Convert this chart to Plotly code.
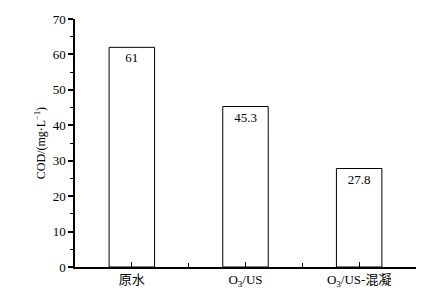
import plotly.graph_objects as go

categories = ["原水", "O<sub>3</sub>/US", "O<sub>3</sub>/US-混凝"]
cod_values = [62, 45.3, 27.8]
bar_labels = ["61", "45.3", "27.8"]
y_ticks = [0, 10, 20, 30, 40, 50, 60, 70]

font_family = "Liberation Serif, Times New Roman, Noto Sans CJK SC, serif"

fig = go.Figure()
fig.add_trace(go.Bar(
    x=list(range(len(categories))),
    y=cod_values,
    width=0.4,
    marker=dict(color="white", line=dict(color="black", width=1)),
    text=bar_labels,
    textposition="inside",
    insidetextanchor="end",
    textangle=0,
    textfont=dict(family=font_family, size=13, color="black"),
    cliponaxis=False,
))

fig.update_layout(
    width=431, height=301,
    margin=dict(l=75, r=15, t=15, b=34),
    paper_bgcolor="white", plot_bgcolor="white",
    showlegend=False,
    font=dict(family=font_family, size=13, color="black"),
    xaxis=dict(
        range=[-0.5, 2.5],
        tickmode="array", tickvals=list(range(len(categories))), ticktext=categories,
        ticks="inside", ticklen=5, tickwidth=1, tickcolor="black",
        showline=True, linecolor="black", linewidth=1.5,
        showgrid=False, zeroline=False,
        tickfont=dict(family=font_family, size=13, color="black"),
        minor=dict(tickmode="array", tickvals=[0.5, 1.5, 2.5], ticks="inside",
                   ticklen=4, tickwidth=1, tickcolor="black", showgrid=False),
    ),
    yaxis=dict(
        range=[0, 70],
        tickmode="array", tickvals=y_ticks,
        ticks="outside", ticklen=5, tickwidth=1.5, tickcolor="black",
        showline=True, linecolor="black", linewidth=1.5,
        showgrid=False, zeroline=False,
        tickfont=dict(family=font_family, size=13, color="black"),
        title=dict(text="COD/(mg·L<sup>−1</sup>)", font=dict(family=font_family, size=12, color="black"), standoff=4),
        minor=dict(dtick=5, ticks="outside", ticklen=3, tickwidth=1, tickcolor="black", showgrid=False),
    ),
)

fig.write_html("out.html", config={"displayModeBar": False},
               post_script="document.body.style.margin='0';")
